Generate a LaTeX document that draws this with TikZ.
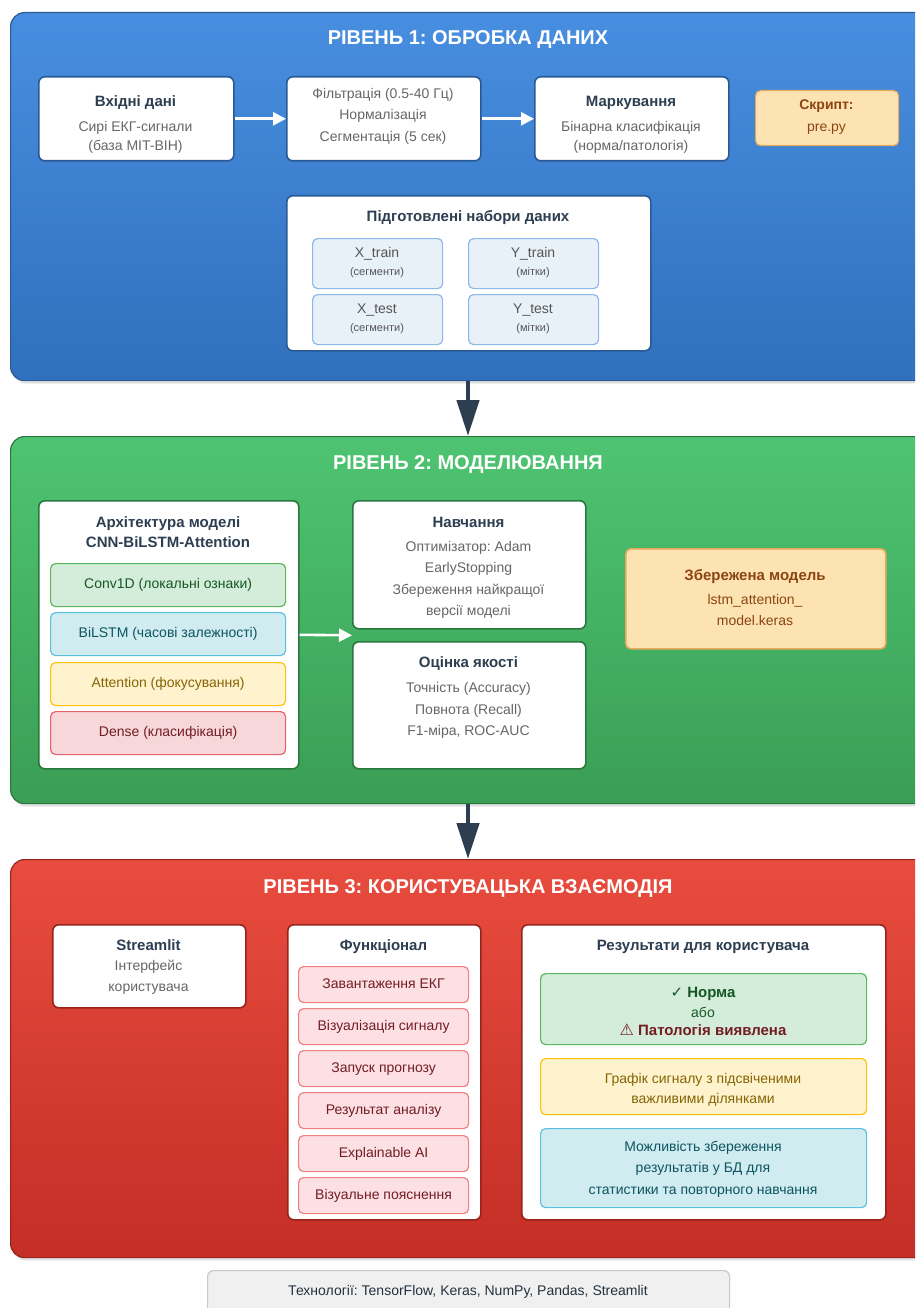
\documentclass[tikz,border=0pt]{standalone}
\usepackage{fontspec}
\setmainfont{Liberation Sans}
\newfontfamily\symfont{DejaVu Sans}
\usetikzlibrary{arrows.meta,shadows}
\frenchspacing
\definecolor{bluetop}{RGB}{72,142,224}
\definecolor{bluebot}{RGB}{48,112,188}
\definecolor{blueedge}{RGB}{40,90,150}
\definecolor{greentop}{RGB}{78,196,114}
\definecolor{greenbot}{RGB}{58,158,84}
\definecolor{greenedge}{RGB}{42,120,62}
\definecolor{redtop}{RGB}{232,76,62}
\definecolor{redbot}{RGB}{196,46,38}
\definecolor{rededge}{RGB}{150,36,28}
\definecolor{darktxt}{RGB}{44,62,80}
\definecolor{graytxt}{RGB}{102,102,102}
\definecolor{subtxt}{RGB}{85,85,85}
\definecolor{orfill}{RGB}{253,227,178}
\definecolor{oredge}{RGB}{232,170,90}
\definecolor{brown}{RGB}{139,69,19}
\definecolor{dsfill}{RGB}{232,240,248}
\definecolor{dsedge}{RGB}{140,184,236}
\definecolor{gfill}{RGB}{212,237,218}
\definecolor{gedge}{RGB}{92,184,92}
\definecolor{gtxt}{RGB}{21,87,36}
\definecolor{cfill}{RGB}{209,236,241}
\definecolor{cedge}{RGB}{91,192,222}
\definecolor{ctxt}{RGB}{12,84,96}
\definecolor{yfill}{RGB}{255,243,205}
\definecolor{yedge}{RGB}{255,193,7}
\definecolor{ytxt}{RGB}{133,100,4}
\definecolor{pfill}{RGB}{248,215,218}
\definecolor{pedge}{RGB}{230,96,110}
\definecolor{ptxt}{RGB}{114,28,36}
\definecolor{ffill}{RGB}{253,224,227}
\definecolor{fedge}{RGB}{240,128,128}
\definecolor{arrowdark}{RGB}{44,62,80}
\definecolor{techfill}{RGB}{240,240,240}
\definecolor{techedge}{RGB}{200,200,200}
\begin{document}
\begin{tikzpicture}[x=1pt,y=-1pt,
  panel/.style={anchor=north west, inner sep=0pt, rounded corners=14pt, line width=1.2pt,
     drop shadow={opacity=0.22, shadow xshift=1.5pt, shadow yshift=-3pt}},
  bluepanel/.style={panel, draw=blueedge, top color=bluetop, bottom color=bluebot},
  greenpanel/.style={panel, draw=greenedge, top color=greentop, bottom color=greenbot},
  redpanel/.style={panel, draw=rededge, top color=redtop, bottom color=redbot},
  wbox/.style={anchor=north west, inner sep=0pt, rounded corners=6pt, fill=white, line width=1.6pt},
  sbox/.style={anchor=north west, inner sep=0pt, rounded corners=5pt, line width=1.2pt},
  ttl/.style={font=\fontsize{20}{24}\selectfont\bfseries, text=white, inner sep=0pt},
  hd/.style={font=\fontsize{15}{18}\selectfont\bfseries, text=darktxt, inner sep=0pt, text height=11pt, text depth=3pt},
  tx/.style={font=\fontsize{14}{17}\selectfont, text=graytxt, inner sep=0pt, text height=10pt, text depth=3pt},
  sm/.style={font=\fontsize{11}{13}\selectfont, text=subtxt, inner sep=0pt, text height=8pt, text depth=2pt},
  warrow/.style={draw=white, line width=2.6pt, -{Triangle[length=13pt,width=13pt]}},
  darrow/.style={draw=arrowdark, line width=4.5pt, -{Triangle[length=36pt,width=22pt]}},
]
\useasboundingbox (0,0) rectangle (915,1308);
\clip (0,0) rectangle (915,1308);
\fill[white] (0,0) rectangle (915,1308);

% ---------------- Panel 1
\node[bluepanel, minimum width=940pt, minimum height=368pt] (p1) at (10,12) {};
\node[ttl] (t1) at (468,40) {РІВЕНЬ 1: ОБРОБКА ДАНИХ};

\node[wbox, draw=blueedge, minimum width=195pt, minimum height=84pt] (in) at (38,76) {};
\node[hd] (in0) at (135.5,103) {Вхідні дані};
\node[tx] (in1) at (135.5,128) {Сирі ЕКГ-сигнали};
\node[tx] (in2) at (135.5,147) {(база MIT-BIH)};

\node[wbox, draw=blueedge, minimum width=194pt, minimum height=84pt] (filt) at (286,76) {};
\node[tx] (f1) at (383,95) {Фільтрація (0.5-40 Гц)};
\node[tx] (f2) at (383,116.5) {Нормалізація};
\node[tx] (f3) at (383,138) {Сегментація (5 сек)};

\node[wbox, draw=blueedge, minimum width=194pt, minimum height=84pt] (mark) at (534,76) {};
\node[hd] (m0) at (631,103) {Маркування};
\node[tx] (m1) at (631,128) {Бінарна класифікація};
\node[tx] (m2) at (631,147) {(норма/патологія)};

\node[sbox, fill=orfill, draw=oredge, minimum width=143pt, minimum height=55pt] (scr) at (755,90) {};
\node[hd, text=brown, font=\fontsize{14}{17}\selectfont\bfseries] (s0) at (826.5,106) {Скрипт:};
\node[tx, text=brown] (s1) at (826.5,128) {pre.py};

\draw[warrow] (in.east) -- (filt.west);
\draw[warrow] (filt.east) -- (mark.west);

\node[wbox, draw=blueedge, minimum width=364pt, minimum height=155pt] (data) at (286,195) {};
\node[hd] (d0) at (468,217) {Підготовлені набори даних};
\node[sbox, fill=dsfill, draw=dsedge, minimum width=130pt, minimum height=50pt] (xtr) at (312,238) {};
\node[sbox, fill=dsfill, draw=dsedge, minimum width=130pt, minimum height=50pt] (ytr) at (468,238) {};
\node[sbox, fill=dsfill, draw=dsedge, minimum width=130pt, minimum height=50pt] (xte) at (312,294) {};
\node[sbox, fill=dsfill, draw=dsedge, minimum width=130pt, minimum height=50pt] (yte) at (468,294) {};
\node[tx, text=subtxt] (xtr1) at (377,254) {X\_train};
\node[sm] (xtr2) at (377,272) {(сегменти)};
\node[tx, text=subtxt] (ytr1) at (533,254) {Y\_train};
\node[sm] (ytr2) at (533,272) {(мітки)};
\node[tx, text=subtxt] (xte1) at (377,310) {X\_test};
\node[sm] (xte2) at (377,328) {(сегменти)};
\node[tx, text=subtxt] (yte1) at (533,310) {Y\_test};
\node[sm] (yte2) at (533,328) {(мітки)};

% ---------------- Panel 2
\node[greenpanel, minimum width=940pt, minimum height=367pt] (p2) at (10,436) {};
\node[ttl] (t2) at (468,465) {РІВЕНЬ 2: МОДЕЛЮВАННЯ};

\node[wbox, draw=greenedge, minimum width=260pt, minimum height=268pt] (arch) at (38,500) {};
\node[hd] (a0) at (168,523) {Архітектура моделі};
\node[hd] (a1) at (168,543) {CNN-BiLSTM-Attention};
\node[sbox, fill=gfill, draw=gedge, minimum width=235pt, minimum height=43pt] (conv) at (50,563) {};
\node[sbox, fill=cfill, draw=cedge, minimum width=235pt, minimum height=43pt] (bil) at (50,612) {};
\node[sbox, fill=yfill, draw=yedge, minimum width=235pt, minimum height=43pt] (att) at (50,662) {};
\node[sbox, fill=pfill, draw=pedge, minimum width=235pt, minimum height=43pt] (den) at (50,711) {};
\node[tx, text=gtxt] (conv1) at (conv.center) {Conv1D (локальні ознаки)};
\node[tx, text=ctxt] (bil1) at (bil.center) {BiLSTM (часові залежності)};
\node[tx, text=ytxt] (att1) at (att.center) {Attention (фокусування)};
\node[tx, text=ptxt] (den1) at (den.center) {Dense (класифікація)};

\node[wbox, draw=greenedge, minimum width=233pt, minimum height=128pt] (train) at (352,500) {};
\node[hd] (tr0) at (468.5,523) {Навчання};
\node[tx] (tr1) at (468.5,548) {Оптимізатор: Adam};
\node[tx] (tr2) at (468.5,569) {EarlyStopping};
\node[tx] (tr3) at (468.5,591) {Збереження найкращої};
\node[tx] (tr4) at (468.5,612) {версії моделі};

\node[wbox, draw=greenedge, minimum width=233pt, minimum height=127pt] (eval) at (352,641) {};
\node[hd] (ev0) at (468.5,663) {Оцінка якості};
\node[tx] (ev1) at (468.5,689) {Точність (Accuracy)};
\node[tx] (ev2) at (468.5,711) {Повнота (Recall)};
\node[tx] (ev3) at (468.5,732) {F1-міра, ROC-AUC};

\path (train.south west) -- (eval.north west) coordinate[pos=0.5] (gap);
\draw[warrow] (arch.east) -- (gap);

\node[sbox, fill=orfill, draw=oredge, line width=1.6pt, minimum width=260pt, minimum height=100pt] (saved) at (625,548) {};
\node[hd, text=brown] (sv0) at (755,576) {Збережена модель};
\node[tx, text=brown] (sv1) at (755,601) {lstm\_attention\_};
\node[tx, text=brown] (sv2) at (755,622) {model.keras};

% ---------------- Panel 3
\node[redpanel, minimum width=940pt, minimum height=398pt] (p3) at (10,859) {};
\node[ttl] (t3) at (468,888) {РІВЕНЬ 3: КОРИСТУВАЦЬКА ВЗАЄМОДІЯ};

\node[wbox, draw=rededge, minimum width=193pt, minimum height=83pt] (st) at (52,924) {};
\node[hd] (st0) at (148.5,946) {Streamlit};
\node[tx] (st1) at (148.5,967) {Інтерфейс};
\node[tx] (st2) at (148.5,988) {користувача};

\node[wbox, draw=rededge, minimum width=193pt, minimum height=295pt] (func) at (287,924) {};
\node[hd] (fu0) at (383.5,946) {Функціонал};
\foreach \i/\yy/\lab in {1/966/Завантаження ЕКГ, 2/1008/Візуалізація сигналу, 3/1050/Запуск прогнозу,
   4/1092/Результат аналізу, 5/1135/Explainable AI, 6/1177/Візуальне пояснення} {
  \node[sbox, fill=ffill, draw=fedge, minimum width=170pt, minimum height=36pt] (fb\i) at (298,\yy) {};
  \node[tx, text=ptxt] (fl\i) at (fb\i.center) {\lab};
}

\node[wbox, draw=rededge, minimum width=364pt, minimum height=295pt] (res) at (521,924) {};
\node[hd] (re0) at (703,946) {Результати для користувача};
\node[sbox, fill=gfill, draw=gedge, minimum width=326pt, minimum height=71pt] (rg) at (540,973) {};
\node[hd, text=gtxt] (rg1) at (703,993) {{\symfont ✓} Норма};
\node[tx, text=gtxt] (rg2) at (703,1014) {або};
\node[hd, text=ptxt] (rg3) at (703,1031) {{\symfont\fontsize{16}{18}\selectfont ⚠} Патологія виявлена};
\node[sbox, fill=yfill, draw=yedge, minimum width=326pt, minimum height=56pt] (ry) at (540,1058) {};
\node[tx, text=ytxt] (ry1) at (703,1080) {Графік сигналу з підсвіченими};
\node[tx, text=ytxt] (ry2) at (703,1100) {важливими ділянками};
\node[sbox, fill=cfill, draw=cedge, minimum width=326pt, minimum height=79pt] (rb) at (540,1128) {};
\node[tx, text=ctxt] (rb1) at (703,1148) {Можливість збереження};
\node[tx, text=ctxt] (rb2) at (703,1169) {результатів у БД для};
\node[tx, text=ctxt] (rb3) at (703,1191) {статистики та повторного навчання};

% connectors between panels
\draw[darrow] (p1.south -| t1) -- (p2.north -| t1);
\draw[darrow] (p2.south -| t2) -- (p3.north -| t2);

% ---------------- footer
\node[anchor=north west, inner sep=0pt, rounded corners=6pt, fill=techfill, draw=techedge, line width=1.2pt,
   minimum width=522pt, minimum height=60pt] (tech) at (207,1270) {};
\node[tx, text=darktxt!80!black, font=\fontsize{14}{17}\selectfont] (tech1) at (468,1292) {Технології: TensorFlow, Keras, NumPy, Pandas, Streamlit};
\end{tikzpicture}
\end{document}
